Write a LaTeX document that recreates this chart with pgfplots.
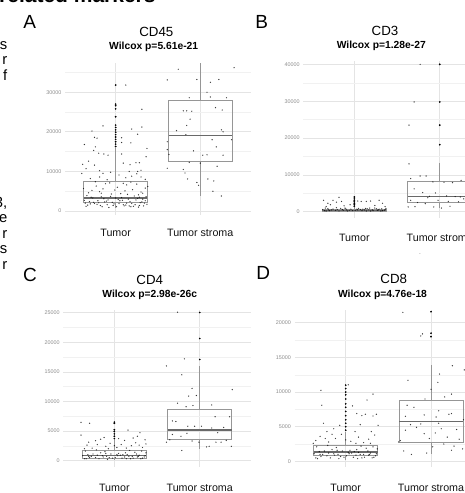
\documentclass[border=0pt]{standalone}
\usepackage{fontspec}
\setmainfont{Liberation Sans}
\usepackage{pgfplots}
\pgfplotsset{compat=1.18}
\usepgfplotslibrary{statistics}
\definecolor{tickgray}{RGB}{140,140,140}
\definecolor{majgrid}{RGB}{228,228,228}
\definecolor{mingrid}{RGB}{241,241,241}
\definecolor{boxgray}{RGB}{150,150,150}
\definecolor{medgray}{RGB}{105,105,105}
% values are in thousands; tick labels show full counts
\pgfplotsset{
  panel/.style={
    scale only axis, xmin=0.4, xmax=2.6,
    axis line style={draw=none}, major tick style={draw=none}, minor tick style={draw=none},
    xtick={1,2}, xticklabels={Tumor,Tumor stroma},
    xmajorgrids, ymajorgrids, yminorgrids,
    major grid style={majgrid, line width=0.7pt},
    minor grid style={mingrid, line width=0.45pt},
    yticklabel style={font=\fontsize{5.4}{6}\selectfont, text=tickgray},
    xticklabel style={font=\fontsize{10.7}{12}\selectfont, text=black!92, anchor=center},
    boxplot/draw direction=y,
    boxplot/every box/.style={draw=boxgray, line width=0.9pt},
    boxplot/every whisker/.style={draw=boxgray, line width=0.9pt},
    boxplot/every median/.style={draw=medgray, line width=1.2pt},
  },
  jit/.style={only marks, mark=*, mark size=0.42pt, mark options={fill=black, draw=none}, opacity=0.6},
  out/.style={only marks, mark=*, mark size=0.65pt, mark options={fill=black!90, draw=none}},
}
\newcommand{\ttl}[1]{\fontsize{13.3}{14}\selectfont #1}
\newcommand{\sub}[1]{\fontsize{10.3}{12}\selectfont\bfseries #1}
\begin{document}
\begin{tikzpicture}
% ---------- A: CD45
\begin{axis}[panel, at={(64.9pt,-215pt)}, anchor=south west, width=186.1pt, height=151.7pt,
  ymin=-1, ymax=37.3, ytick={0,10,20,30}, yticklabels={0,10000,20000,30000}, minor ytick={5,15,25,35},
  xticklabel style={yshift=-18.3pt}]
\addplot[boxplot prepared={lower whisker=0.8, lower quartile=2.1, median=3.3, upper quartile=7.58, upper whisker=15.9, draw position=1, box extend=0.75, whisker extend=0}] coordinates {};
\addplot[boxplot prepared={lower whisker=3.8, lower quartile=12.55, median=19.1, upper quartile=27.8, upper whisker=37.3, draw position=2, box extend=0.75, whisker extend=0}] coordinates {};
\addplot[out] coordinates {(1,16.3)(1,16.9)(1,17.5)(1,18.1)(1,18.7)(1,19.3)(1,19.9)(1,20.5)(1,21.1)(1,21.7)(1,23.8)(1,25.8)(1,26.6)(1,27.0)(1,31.8)};
\addplot[jit] coordinates {
(0.65,1.2)(1.12,1.5)(0.92,0.9)(1.29,2.1)(0.78,1.7)(1.05,2.6)(1.33,1.3)(0.86,3.1)(1.19,1.9)(0.69,2.4)
(1.01,1.1)(1.24,2.8)(0.73,3.3)(1.09,1.6)(0.96,2.2)(1.36,3.6)(0.82,1.4)(1.15,3.0)(0.63,2.7)(1.27,1.0)
(0.89,2.5)(1.07,3.4)(1.31,2.3)(0.75,1.9)(1.21,1.2)(0.94,3.7)(1.13,2.0)(0.67,1.5)(1.03,2.9)(1.35,2.6)
(0.84,1.1)(1.26,3.2)(0.98,1.8)(1.17,2.4)(0.71,3.5)(1.10,1.3)(0.80,2.1)(1.37,1.7)(0.91,2.8)(1.22,3.8)
(0.66,3.9)(1.14,4.2)(0.90,1.6)(1.28,1.4)(0.79,2.6)(1.04,1.9)(1.32,3.0)(0.87,2.3)(1.18,1.1)(0.70,1.8)
(1.00,3.3)(1.23,1.6)(0.74,2.2)(1.08,2.7)(0.97,1.4)(1.34,2.0)(0.83,3.6)(1.16,1.3)(0.64,2.0)(1.28,3.5)
(0.68,4.6)(1.11,5.1)(0.85,5.6)(1.30,4.8)(0.77,6.3)(1.06,4.4)(1.25,6.8)(0.93,7.1)(1.20,5.4)(0.72,5.2)
(1.02,6.0)(1.35,5.8)(0.81,4.9)(1.13,6.6)(0.95,4.3)(1.32,4.5)(0.88,6.9)(1.18,7.3)(0.62,5.7)(1.27,4.1)
(0.76,7.4)(1.09,7.0)(0.99,5.3)(1.38,6.2)(0.83,4.5)
(1.12,31.8)(1.31,25.7)(0.85,21.5)(0.72,20.2)(0.75,18.6)(0.78,18.4)(1.19,20.7)(1.31,21.2)(1.26,19.4)(0.63,16.8)
(0.76,16.2)(1.07,18.5)(1.07,17.3)(1.18,17.2)(0.80,14.6)(0.86,14.4)(0.91,14.1)(0.74,15.3)(0.68,12.6)(0.61,11.8)
(1.37,15.8)(1.36,13.7)(1.24,12.2)(1.28,12.2)(1.17,11.7)(1.09,12.1)(1.07,14.4)(0.65,10.7)(0.75,11.6)(0.94,9.8)
(0.60,9.5)(0.81,10.2)(0.85,9.5)(1.16,10.0)(1.26,10.0)(1.30,10.3)(1.25,9.4)(0.81,8.6)(1.04,9.1)(1.12,8.4)
(1.19,8.8)(1.30,8.6)(1.35,8.0)(0.70,8.2)(0.90,7.9)};
\addplot[jit] coordinates {
(1.74,35.8)(2.40,36.2)(1.61,33.1)(1.96,33.2)(2.12,32.5)(2.22,33.2)(2.08,30.0)(1.87,28.6)(2.12,28.8)(2.31,28.6)
(1.84,25.3)(1.80,25.3)(1.90,25.2)(2.18,26.1)(2.26,25.5)(1.88,23.2)(1.84,21.6)(1.72,20.3)(1.83,19.3)(2.25,20.5)
(2.27,20.0)(2.37,18.0)(2.14,18.0)(1.61,17.5)(1.92,15.2)(2.03,14.1)(2.08,14.2)(2.19,16.2)(2.27,14.1)(1.61,15.5)
(1.63,14.3)(1.87,12.3)(2.00,12.1)(2.20,11.3)(1.61,10.8)(1.80,10.5)(1.82,9.6)(1.85,8.1)(1.96,7.2)(1.98,6.5)
(2.09,8.1)(2.16,7.6)(2.15,5.0)(2.25,3.8)};
\end{axis}
% ---------- B: CD3
\begin{axis}[panel, at={(303.1pt,-218pt)}, anchor=south west, width=187.9pt, height=156.6pt,
  ymin=-1.7, ymax=40.8, ytick={0,10,20,30,40}, yticklabels={0,10000,20000,30000,40000}, minor ytick={5,15,25,35},
  xticklabel style={yshift=-20.3pt}]
\addplot[boxplot prepared={lower whisker=0, lower quartile=0.2, median=0.42, upper quartile=0.7, upper whisker=1.3, draw position=1, box extend=0.75, whisker extend=0}] coordinates {};
\addplot[boxplot prepared={lower whisker=0.9, lower quartile=2.55, median=4.2, upper quartile=8.25, upper whisker=13.1, draw position=2, box extend=0.75, whisker extend=0}] coordinates {};
\addplot[out] coordinates {(1,1.5)(1,1.9)(1,2.3)(1,2.7)(1,3.1)(1,3.5)(1,4.0)
(2,18.2)(2,23.5)(2,29.8)(2,40.0)};
\addplot[jit] coordinates {
(0.65,0.3)(1.12,0.5)(0.92,0.2)(1.29,0.7)(0.78,0.4)(1.05,0.9)(1.33,0.3)(0.86,0.6)(1.19,0.2)(0.69,0.8)
(1.01,0.4)(1.24,1.0)(0.73,0.5)(1.09,0.3)(0.96,0.7)(1.36,0.6)(0.82,0.2)(1.15,0.8)(0.63,0.6)(1.27,0.4)
(0.89,1.0)(1.07,0.6)(1.31,0.2)(0.75,0.7)(1.21,0.5)(0.94,0.4)(1.13,0.9)(0.67,0.2)(1.03,0.7)(1.35,0.4)
(0.84,0.9)(1.26,0.8)(0.98,0.3)(1.17,0.5)(0.71,0.3)(1.10,0.7)(0.80,0.6)(1.37,0.9)(0.91,0.5)(1.22,0.3)
(0.66,1.0)(1.14,0.2)(0.90,0.8)(1.28,0.5)(0.79,1.1)(1.04,0.5)(1.32,0.8)(0.87,0.4)(1.18,1.0)(0.70,0.5)
(0.64,3.1)(0.69,2.3)(0.75,3.1)(0.82,3.9)(0.79,2.6)(0.85,2.8)(0.95,1.9)(1.04,2.9)(1.08,2.8)(1.14,2.8)
(1.19,2.9)(1.29,3.1)(1.33,2.3)(1.36,1.4)(0.72,1.9)(0.88,1.6)(1.24,1.7)(0.67,1.4)};
\addplot[jit] coordinates {
(1.77,40.0)(1.70,29.8)(1.64,23.5)(1.64,13.0)(1.66,9.0)(1.77,9.7)(1.84,9.7)(1.92,8.1)(2.05,8.0)(2.15,7.9)
(2.25,8.5)(2.35,10.6)(1.70,6.2)(1.80,5.2)(1.88,4.2)(1.95,5.1)(2.08,4.3)(2.18,4.1)(2.28,3.5)(1.66,3.1)
(1.74,2.5)(1.83,2.2)(1.93,1.3)(2.02,1.0)(2.12,1.5)(2.22,2.7)(2.30,3.2)(1.63,1.3)(1.71,1.4)(1.98,3.1)
(2.24,4.0)(1.86,3.8)(2.10,2.8)};
\end{axis}
% ---------- C: CD4
\begin{axis}[panel, at={(63.1pt,-467pt)}, anchor=south west, width=187.9pt, height=157.2pt,
  ymin=-1.1, ymax=25.5, ytick={0,5,10,15,20,25}, yticklabels={0,5000,10000,15000,20000,25000}, minor ytick={2.5,7.5,12.5,17.5,22.5},
  xticklabel style={yshift=-21pt}]
\addplot[boxplot prepared={lower whisker=0.1, lower quartile=0.4, median=0.8, upper quartile=1.65, upper whisker=3.4, draw position=1, box extend=0.75, whisker extend=0}] coordinates {};
\addplot[boxplot prepared={lower whisker=1.9, lower quartile=3.55, median=5.15, upper quartile=8.7, upper whisker=16.0, draw position=2, box extend=0.75, whisker extend=0}] coordinates {};
\addplot[out] coordinates {(1,3.7)(1,4.1)(1,4.5)(1,4.9)(1,5.2)(1,6.3)(1,6.5)
(2,17.1)(2,20.65)(2,25.05)};
\addplot[jit] coordinates {
(0.65,0.3)(1.12,0.6)(0.92,0.2)(1.29,0.9)(0.78,0.5)(1.05,1.2)(1.33,0.4)(0.86,0.8)(1.19,0.3)(0.69,1.0)
(1.01,0.5)(1.24,1.4)(0.73,0.7)(1.09,0.4)(0.96,1.1)(1.36,0.8)(0.82,0.3)(1.15,1.0)(0.63,0.8)(1.27,0.6)
(0.89,1.5)(1.07,0.9)(1.31,0.3)(0.75,1.1)(1.21,0.7)(0.94,0.5)(1.13,1.3)(0.67,0.3)(1.03,1.0)(1.35,0.6)
(0.84,1.3)(1.26,1.1)(0.98,0.4)(1.17,0.7)(0.71,0.5)(1.10,1.0)(0.80,0.9)(1.37,1.3)(0.91,0.7)(1.22,0.4)
(0.66,1.6)(1.14,0.3)(0.90,1.2)(1.28,0.7)(0.79,1.8)(1.04,0.8)(1.32,1.6)(0.87,0.6)(1.18,1.7)(0.70,0.7)
(0.61,6.45)(0.71,6.3)(0.61,4.3)(1.16,5.15)(1.30,4.7)(0.78,3.35)(0.84,3.6)(0.68,2.6)(0.74,2.1)(0.90,2.4)
(0.95,2.9)(1.03,2.2)(1.08,2.7)(1.12,3.4)(1.20,2.5)(1.25,3.0)(1.33,2.2)(1.37,2.8)(1.36,3.5)(0.65,2.0)
(0.80,2.7)(0.88,3.9)(1.05,3.7)(1.22,3.8)(1.29,2.6)(0.93,2.0)(1.14,2.1)(0.70,3.1)(1.00,2.5)(1.27,4.1)};
\addplot[jit] coordinates {
(1.74,25.1)(1.61,16.0)(1.82,17.2)(1.79,14.5)(1.91,12.2)(1.87,10.9)(1.96,11.0)(2.38,12.0)(1.74,9.7)(1.84,9.1)
(1.92,9.3)(2.14,9.4)(2.18,7.4)(2.35,7.4)(1.68,6.7)(1.72,6.6)(1.86,5.8)(1.94,5.8)(2.02,5.8)(2.14,5.5)
(2.21,4.7)(2.28,5.6)(1.68,4.4)(1.78,4.1)(1.85,4.6)(1.91,3.3)(1.99,3.1)(2.08,2.3)(2.11,2.4)(2.19,3.1)
(2.37,2.4)(1.79,1.7)(1.61,3.1)(1.65,3.5)(2.25,3.1)(2.31,3.4)};
\end{axis}
% ---------- D: CD8
\begin{axis}[panel, at={(294.5pt,-466.9pt)}, anchor=south west, width=187.7pt, height=156.6pt,
  ymin=-0.8, ymax=21.8, ytick={0,5,10,15,20}, yticklabels={0,5000,10000,15000,20000}, minor ytick={2.5,7.5,12.5,17.5},
  xticklabel style={yshift=-21pt}]
\addplot[boxplot prepared={lower whisker=0.2, lower quartile=0.85, median=1.34, upper quartile=2.25, upper whisker=4.2, draw position=1, box extend=0.75, whisker extend=0}] coordinates {};
\addplot[boxplot prepared={lower whisker=1.1, lower quartile=2.75, median=5.7, upper quartile=8.75, upper whisker=13.85, draw position=2, box extend=0.75, whisker extend=0}] coordinates {};
\addplot[out] coordinates {(1,4.5)(1,5.0)(1,5.5)(1,6.0)(1,6.6)(1,7.2)(1,7.8)(1,8.3)(1,9.0)(1,9.6)(1,10.0)(1,10.5)(1,11.0)
(2,18.0)(2,18.5)(2,21.6)};
\addplot[jit] coordinates {
(0.65,0.5)(1.12,0.9)(0.92,0.4)(1.29,1.2)(0.78,0.8)(1.05,1.6)(1.33,0.6)(0.86,1.1)(1.19,0.5)(0.69,1.4)
(1.01,0.8)(1.24,1.9)(0.73,1.0)(1.09,0.6)(0.96,1.5)(1.36,1.1)(0.82,0.5)(1.15,1.3)(0.63,1.1)(1.27,0.9)
(0.89,2.0)(1.07,1.2)(1.31,0.5)(0.75,1.5)(1.21,1.0)(0.94,0.7)(1.13,1.7)(0.67,0.4)(1.03,1.3)(1.35,0.8)
(0.84,1.7)(1.26,1.5)(0.98,0.6)(1.17,1.0)(0.71,0.7)(1.10,1.4)(0.80,1.2)(1.37,1.8)(0.91,1.0)(1.22,0.6)
(0.66,2.1)(1.14,0.4)(0.90,1.6)(1.28,1.0)(0.79,2.3)(1.04,1.1)(1.32,2.1)(0.87,0.9)(1.18,2.2)(0.70,1.0)
(0.71,10.25)(0.72,8.1)(1.03,11.05)(1.08,8.0)(1.25,8.85)(1.32,9.7)(1.13,6.9)(1.19,6.6)(1.23,6.8)(1.32,6.55)
(1.36,6.8)(0.74,5.5)(0.78,4.3)(0.86,4.7)(0.93,5.2)(1.11,4.3)(1.17,5.3)(1.30,4.3)(1.38,5.2)(0.65,3.0)
(0.70,3.6)(0.80,2.8)(0.88,3.3)(0.95,3.9)(1.06,2.9)(1.15,3.5)(1.21,2.7)(1.27,3.2)(1.34,3.8)(0.62,2.6)
(0.84,3.9)(1.00,3.1)(1.12,2.6)(0.76,3.3)(1.29,2.6)};
\addplot[jit] coordinates {
(1.67,21.5)(1.88,18.1)(1.90,18.4)(2.25,13.8)(2.39,13.2)(2.10,12.6)(1.73,11.7)(2.08,11.4)(2.24,9.7)(2.16,9.3)
(1.93,9.0)(2.00,10.4)(1.72,8.1)(1.80,7.8)(2.09,7.3)(1.92,6.7)(2.21,6.8)(1.70,6.5)(2.06,6.4)(2.24,6.9)
(2.38,6.0)(1.64,3.0)(1.70,4.5)(1.76,5.3)(1.83,4.9)(1.92,4.0)(1.98,3.3)(2.05,4.1)(2.12,4.7)(2.19,3.5)
(2.27,2.2)(2.33,3.2)(2.37,1.8)(1.68,1.5)(1.77,1.0)(1.95,1.2)(2.02,2.1)(2.15,2.5)(2.24,1.6)(1.62,2.8)
(1.88,5.4)(2.09,5.5)(2.30,4.6)};
\end{axis}
% ---------- titles and surrounding text
\node[anchor=base] at (156.3pt,-36pt) {\ttl{CD45}};
\node[anchor=base] at (153.7pt,-49.7pt) {\sub{Wilcox p=5.61e-21}};
\node[anchor=base] at (385pt,-35.8pt) {\ttl{CD3}};
\node[anchor=base] at (381.3pt,-48.7pt) {\sub{Wilcox p=1.28e-27}};
\node[anchor=base] at (149.7pt,-284pt) {\ttl{CD4}};
\node[anchor=base] at (149.7pt,-297pt) {\sub{Wilcox p=2.98e-26c}};
\node[anchor=base] at (393.7pt,-283pt) {\ttl{CD8}};
\node[anchor=base] at (382.5pt,-297pt) {\sub{Wilcox p=4.76e-18}};
\node at (29.7pt,-22.3pt) {\fontsize{19}{20}\selectfont A};
\node at (261.7pt,-22pt) {\fontsize{19}{20}\selectfont B};
\node at (30pt,-275pt) {\fontsize{19}{20}\selectfont C};
\node at (263.3pt,-272.7pt) {\fontsize{19}{20}\selectfont D};
\node[anchor=base west, inner sep=0pt] at (-1pt,-2pt) {\fontsize{21}{22}\selectfont\bfseries related markers};
\foreach \t/\y in {s/49,r/64.5,f/80,{3,}/207,e/222.5,r/238,s/253.5,r/269}
  \node[anchor=base east, inner sep=0pt] at (7.5pt,-\y pt) {\fontsize{14.8}{16}\selectfont \t};
\node[text=gray] at (420pt,-255pt) {\fontsize{5}{5}\selectfont -};
\pgfresetboundingbox
\path[use as bounding box] (0,0) rectangle (465pt,-493pt);
\end{tikzpicture}
\end{document}
